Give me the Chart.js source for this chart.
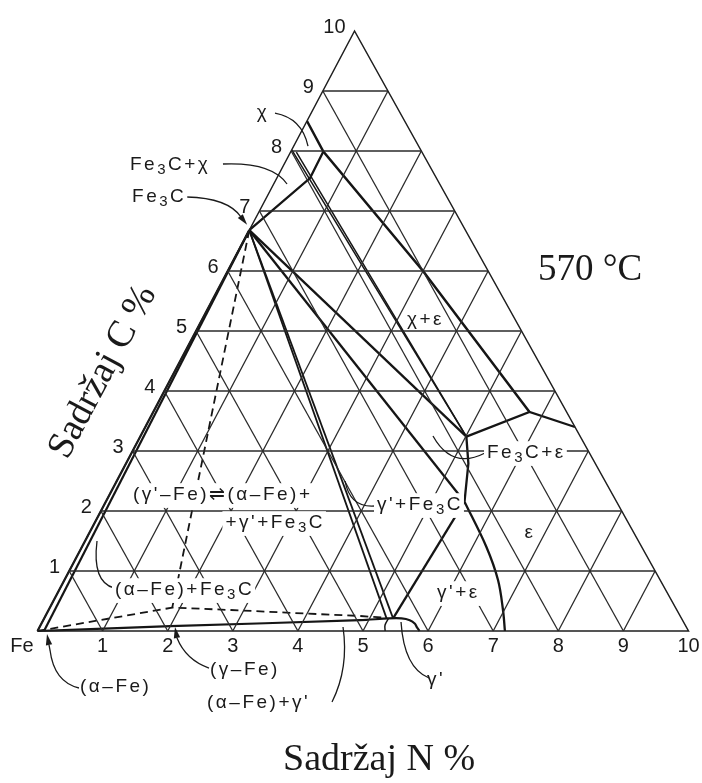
<!DOCTYPE html>
<html>
<head>
<meta charset="utf-8">
<title>Fe-N-C 570 °C</title>
<script src="https://cdn.jsdelivr.net/npm/chart.js@4/dist/chart.umd.min.js"></script>
<style>
  html, body { margin: 0; padding: 0; background: #fff; }
  #wrap { width: 702px; height: 783px; }
</style>
</head>
<body>
<div id="wrap"><canvas id="chart" width="702" height="783"></canvas></div>
<script>
// Fe-N-C isothermal section at 570 °C, compositions in % (N, C)

const SKEW = 0.487; // the scanned triangle is a bit sheared, top vertex sits left of centre

// tick labels
const nTickLabels = ['Fe', '1', '2', '3', '4', '5', '6', '7', '8', '9', '10'];
const cTickLabels = ['1', '2', '3', '4', '5', '6', '7', '8', '9', '10'];
const gridSteps = [1, 2, 3, 4, 5, 6, 7, 8, 9];

// phase boundaries, points as [N, C]
const triangleEdge   = [[0, 0], [10, 0], [0, 10], [0, 0]];
const alphaFeEdge    = [[0, 0], [0, 6.68]];
const alphaFeLimit   = [[0.1, 0], [0, 6.68]];
const gammaFeDashed  = [[0, 0], [1.88, 0.39], [2.8, 0.35], [4.0, 0.29], [4.84, 0.25], [5.26, 0.22]];
const eutectoidDash  = [[0, 6.68], [1.88, 0.39]];
const alphaGammaLine = [[0, 0], [2.0, 0.08], [4.87, 0.18], [5.29, 0.21], [5.49, 0.21], [5.63, 0.18], [5.74, 0.12], [5.8, 0.06], [5.87, 0]];
const gammaPrimeLeft = [[5.34, 0], [5.29, 0.1], [5.29, 0.21]];
const fe3cGammaA     = [[0, 6.68], [5.26, 0.21]];
const fe3cGammaB     = [[0, 6.68], [5.36, 0.21]];
const fe3cEpsLow     = [[0, 6.68], [5.51, 2.155]];
const fe3cEpsHigh    = [[0, 6.68], [5.01, 3.24]];
const epsLeft        = [[5.01, 3.24], [5.26, 2.79], [5.51, 2.155]];
const gammaEpsTie    = [[5.51, 2.155], [5.36, 0.21]];
const epsLow         = [[5.51, 2.155], [6.21, 1.405], [6.66, 0.85], [6.98, 0.35], [7.18, 0]];
const epsTop         = [[5.01, 3.24], [5.78, 3.65], [6.6, 3.4]];
const chiEps         = [[0, 8.5], [0.5, 7.99], [3.0, 6.0], [5.78, 3.65]];
const fe3cChi        = [[0, 6.68], [0.51, 7.55], [0.5, 7.99]];
const chiTieA        = [[0, 8.02], [5.01, 3.24]];
const chiTieB        = [[0.09, 7.98], [5.01, 3.24]];

const tern = (n, c) => ({ x: n + SKEW * c, y: c });

function line(pts, opt) {
  return Object.assign({
    data: pts.map(([n, c]) => tern(n, c)),
    showLine: true,
    pointRadius: 0,
    borderColor: '#151515',
    borderWidth: 2.3,
    fill: false,
    tension: 0
  }, opt || {});
}

const gridStyle = { borderColor: '#2a2a2a', borderWidth: 1.3 };
const datasets = [];
gridSteps.forEach(k => {
  datasets.push(line([[0, k], [10 - k, k]], gridStyle));
  datasets.push(line([[k, 0], [k, 10 - k]], gridStyle));
  datasets.push(line([[k, 0], [0, k]], gridStyle));
});
datasets.push(line(triangleEdge, { borderColor: '#1e1e1e', borderWidth: 1.5 }));

datasets.push(line(alphaFeEdge, { borderWidth: 2.2 }));
datasets.push(line(alphaFeLimit, { borderWidth: 2.2 }));
datasets.push(line(gammaFeDashed, { borderWidth: 1.8, borderDash: [8, 5] }));
datasets.push(line(eutectoidDash, { borderWidth: 1.8, borderDash: [8, 5] }));
datasets.push(line(alphaGammaLine, { borderWidth: 2.2, tension: 0.3 }));
datasets.push(line(gammaPrimeLeft, { borderWidth: 1.5, tension: 0.4 }));
datasets.push(line(fe3cGammaA, { borderWidth: 1.8 }));
datasets.push(line(fe3cGammaB, { borderWidth: 1.8 }));
datasets.push(line(fe3cEpsLow));
datasets.push(line(fe3cEpsHigh));
datasets.push(line(epsLeft));
datasets.push(line(gammaEpsTie));
datasets.push(line(epsLow, { tension: 0.35 }));
datasets.push(line(epsTop));
datasets.push(line(chiEps, { borderWidth: 2.5 }));
datasets.push(line(fe3cChi, { borderWidth: 2.3 }));
datasets.push(line(chiTieA, { borderWidth: 1.5 }));
datasets.push(line(chiTieB, { borderWidth: 1.5 }));

// ------------------------------------------------------
// Text, leaders and ticks
// ------------------------------------------------------
const SANS = '"Liberation Sans", Arial, sans-serif';
const SERIF = '"Liberation Serif", "Times New Roman", serif';

function splitSub(text) {
  const out = [];
  let buf = '';
  for (let i = 0; i < text.length; i++) {
    if (text[i] === '_') {
      if (buf) out.push({ t: buf, sub: false });
      buf = '';
      out.push({ t: text[i + 1], sub: true });
      i++;
    } else buf += text[i];
  }
  if (buf) out.push({ t: buf, sub: false });
  return out;
}

function drawRich(ctx, text, x, y, size, align, box) {
  const parts = splitSub(text);
  const fontOf = p => (p.sub ? Math.round(size * 0.8) : size) + 'px ' + SANS;
  let w = 0;
  parts.forEach(p => { ctx.font = fontOf(p); w += ctx.measureText(p.t).width; });
  let cx = align === 'center' ? x - w / 2 : align === 'right' ? x - w : x;
  if (box) {
    ctx.fillStyle = '#fff';
    ctx.fillRect(cx - 3, y - size * 0.62, w + 4, size * 1.3);
  }
  ctx.fillStyle = '#1a1a1a';
  ctx.textAlign = 'left';
  ctx.textBaseline = 'middle';
  parts.forEach(p => {
    ctx.font = fontOf(p);
    ctx.fillText(p.t, cx, p.sub ? y + size * 0.28 : y);
    cx += ctx.measureText(p.t).width;
  });
}

const notes = [
  { t: 'χ', X: 3.464, Y: 8.633, align: 'center', box: true },
  { t: 'Fe_3C+χ', X: 1.421, Y: 7.767, box: true },
  { t: 'Fe_3C', X: 1.452, Y: 7.233, box: true },
  { t: '(γ\'–Fe)⇌(α–Fe)+', X: 1.467, Y: 2.267, box: true },
  { t: '+γ\'+Fe_3C', X: 4.416, Y: 1.8, align: 'right', box: true },
  { t: '(α–Fe)+Fe_3C', X: 1.19, Y: 0.683, box: true },
  { t: '(α–Fe)', X: 0.653, Y: -0.933 },
  { t: '(γ–Fe)', X: 2.65, Y: -0.65 },
  { t: '(α–Fe)+γ\'', X: 2.604, Y: -1.2 },
  { t: 'γ\'', X: 6.121, Y: -0.817, align: 'center' },
  { t: 'γ\'+Fe_3C', X: 5.215, Y: 2.1, box: true },
  { t: 'Fe_3C+ε', X: 6.905, Y: 2.967, box: true },
  { t: 'ε', X: 7.565, Y: 1.633, align: 'center' },
  { t: 'γ\'+ε', X: 6.137, Y: 0.633, box: true },
  { t: 'χ+ε', X: 5.676, Y: 5.183 }
];

// leader curves: start, control, end (plot units) and optional arrow tip
const leaders = [
  { p: [[3.648, 8.633], [4.063, 8.55], [4.155, 8.083]] },
  { p: [[2.849, 7.783], [3.602, 7.817], [3.833, 7.45]] },
  { p: [[2.296, 7.233], [2.926, 7.217], [3.126, 6.9]], tip: [3.22, 6.77] },
  { p: [[1.175, 0.717], [0.837, 0.817], [0.914, 1.5]] },
  { p: [[0.637, -0.95], [0.253, -0.85], [0.192, -0.317]], tip: [0.146, -0.05] },
  { p: [[2.634, -0.617], [2.281, -0.483], [2.143, -0.117]], tip: [2.112, 0.067] },
  { p: [[4.524, -1.183], [4.785, -0.617], [4.693, 0.067]] },
  { p: [[6.014, -0.783], [5.63, -0.617], [5.584, 0.15]] },
  { p: [[5.184, 2.083], [4.8, 2.05], [4.724, 2.5]] },
  { p: [[6.874, 2.967], [6.367, 2.683], [6.075, 3.25]] }
];

const labelPlugin = {
  id: 'ternaryText',
  afterDatasetsDraw(chart) {
    const ctx = chart.ctx;
    const xs = chart.scales.x, ys = chart.scales.y;
    const px = (X, Y) => [xs.getPixelForValue(X), ys.getPixelForValue(Y)];
    ctx.save();

    // leaders
    ctx.strokeStyle = '#1a1a1a';
    ctx.fillStyle = '#1a1a1a';
    ctx.lineWidth = 1.3;
    leaders.forEach(l => {
      const [a, b, c] = l.p.map(q => px(q[0], q[1]));
      ctx.beginPath();
      ctx.moveTo(a[0], a[1]);
      ctx.quadraticCurveTo(b[0], b[1], c[0], c[1]);
      ctx.stroke();
      if (l.tip) {
        const t = px(l.tip[0], l.tip[1]);
        const dx = t[0] - c[0], dy = t[1] - c[1];
        const len = Math.hypot(dx, dy) || 1;
        const ux = dx / len, uy = dy / len;
        const bx = t[0] - ux * 11, by = t[1] - uy * 11;
        ctx.beginPath();
        ctx.moveTo(t[0], t[1]);
        ctx.lineTo(bx - uy * 3.2, by + ux * 3.2);
        ctx.lineTo(bx + uy * 3.2, by - ux * 3.2);
        ctx.closePath();
        ctx.fill();
        ctx.beginPath();
        ctx.moveTo(c[0], c[1]);
        ctx.lineTo(bx, by);
        ctx.stroke();
      }
    });

    // annotations
    ctx.letterSpacing = '2.5px';
    notes.forEach(n => {
      const [x, y] = px(n.X, n.Y);
      drawRich(ctx, n.t, x, y, 19, n.align || 'left', n.box);
    });
    ctx.letterSpacing = '0px';

    // ticks
    ctx.fillStyle = '#1a1a1a';
    ctx.font = '20px ' + SANS;
    ctx.textBaseline = 'middle';
    nTickLabels.forEach((lab, k) => {
      const p = tern(k, 0);
      const [x, y] = px(p.x, p.y);
      if (k === 0) { ctx.textAlign = 'right'; ctx.fillText(lab, x - 4, y + 15); }
      else { ctx.textAlign = 'center'; ctx.fillText(lab, x, y + 15); }
    });
    ctx.textAlign = 'right';
    cTickLabels.forEach((lab, i) => {
      const p = tern(0, i + 1);
      const [x, y] = px(p.x, p.y);
      ctx.fillText(lab, x - 9, y - 4);
    });

    // titles
    ctx.font = '37px ' + SERIF;
    ctx.textAlign = 'left';
    ctx.textBaseline = 'alphabetic';
    let [tx, ty] = px(7.688, 5.85);
    ctx.fillText('570 °C', tx, ty);

    ctx.font = '38px ' + SERIF;
    ctx.textAlign = 'center';
    ctx.textBaseline = 'middle';
    [tx, ty] = px(5.246, -2.15);
    ctx.fillText('Sadržaj N %', tx, ty);

    [tx, ty] = px(1.006, 4.317);
    ctx.translate(tx, ty);
    ctx.rotate(-62 * Math.PI / 180);
    ctx.fillText('Sadržaj C %', 0, 0);
    ctx.restore();
  }
};

new Chart(document.getElementById('chart'), {
  type: 'scatter',
  data: { datasets },
  options: {
    responsive: false,
    animation: false,
    events: [],
    layout: { padding: 0 },
    plugins: { legend: { display: false }, tooltip: { enabled: false } },
    scales: {
      x: { type: 'linear', min: -37.5 / 65.1, max: (702 - 37.5) / 65.1, display: false },
      y: { type: 'linear', min: (631 - 783) / 60, max: 631 / 60, display: false }
    }
  },
  plugins: [labelPlugin]
});
</script>
</body>
</html>
